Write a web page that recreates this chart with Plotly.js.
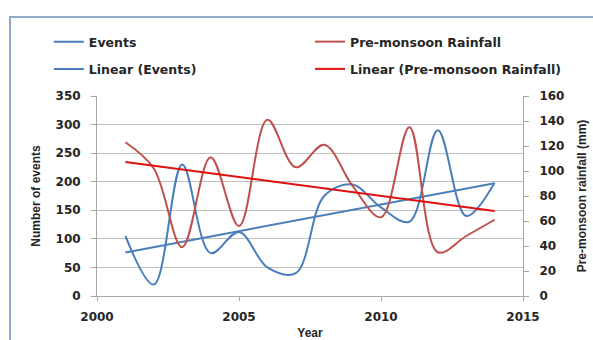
<!DOCTYPE html>
<html>
<head>
<meta charset="utf-8">
<script src="https://cdn.plot.ly/plotly-3.0.1.min.js"></script>
<style>
  html, body { margin: 0; padding: 0; background: #ffffff; overflow: hidden; }
  #wrap { position: relative; width: 593px; height: 340px; overflow: hidden; }
  #frame { position: absolute; left: 9px; top: 16px; width: 700px; height: 400px;
           border-left: 2px solid #8fa9c9; border-top: 2px solid #8fa9c9; }
  #chart { position: absolute; left: 0; top: 0; width: 593px; height: 340px; }
</style>
</head>
<body>
<div id="wrap">
  <div id="frame"></div>
  <div id="chart"></div>
</div>
<script>
// Yearly observations
const years = [2001, 2002, 2003, 2004, 2005, 2006, 2007, 2008, 2009, 2010, 2011, 2012, 2013, 2014];
const events = [105, 20, 230, 75, 112, 50, 40, 175, 195, 155, 130, 290, 140, 198];
const rainfall = [123, 102, 39, 111, 56, 141, 103, 121, 88, 63, 135, 35, 48, 61];

// Axis ticks
const xTicks = [2000, 2005, 2010, 2015];
const eventTicks = [0, 50, 100, 150, 200, 250, 300, 350];
const rainTicks = [0, 20, 40, 60, 80, 100, 120, 140, 160];

// Least-squares linear trend evaluated at each year
function linearTrend(xs, ys) {
  const n = xs.length;
  const mx = xs.reduce((a, b) => a + b, 0) / n;
  const my = ys.reduce((a, b) => a + b, 0) / n;
  let sxy = 0, sxx = 0;
  for (let i = 0; i < n; i++) {
    sxy += (xs[i] - mx) * (ys[i] - my);
    sxx += (xs[i] - mx) * (xs[i] - mx);
  }
  const slope = sxy / sxx;
  return xs.map(x => my + slope * (x - mx));
}

const blue = '#4a7ebb';
const red = '#c0504d';
const trendRed = '#e01010';
const textColor = '#262626';
const tickFont = { family: 'DejaVu Sans', size: 12, color: textColor, weight: 'bold' };
const legendFont = { family: 'DejaVu Sans', size: 12.5, color: textColor, weight: 'bold' };
const titleFont = { family: 'Liberation Sans', size: 12, color: textColor, weight: 'bold' };

const traces = [
  { x: years, y: events, name: 'Events', type: 'scatter', mode: 'lines',
    line: { color: blue, width: 2, shape: 'spline', smoothing: 1 },
    legend: 'legend', legendgroup: 'ev' },
  { x: years, y: linearTrend(years, events), name: 'Linear (Events)', type: 'scatter', mode: 'lines',
    line: { color: blue, width: 2 }, legend: 'legend', legendgroup: 'evt' },
  { x: years, y: rainfall, name: 'Pre-monsoon Rainfall', type: 'scatter', mode: 'lines', yaxis: 'y2',
    line: { color: red, width: 2, shape: 'spline', smoothing: 1 },
    legend: 'legend2', legendgroup: 'rf' },
  { x: years, y: linearTrend(years, rainfall), name: 'Linear (Pre-monsoon Rainfall)', type: 'scatter', mode: 'lines', yaxis: 'y2',
    line: { color: trendRed, width: 2 }, legend: 'legend2', legendgroup: 'rft' }
];

const legendBase = {
  orientation: 'v', xanchor: 'left', yanchor: 'top',
  font: legendFont, bgcolor: 'rgba(0,0,0,0)', borderwidth: 0,
  tracegroupgap: 8, itemclick: false, itemdoubleclick: false
};

const layout = {
  width: 593, height: 340,
  margin: { l: 97, r: 70, t: 96, b: 44 },
  paper_bgcolor: 'rgba(0,0,0,0)', plot_bgcolor: 'rgba(0,0,0,0)',
  showlegend: true,
  legend: Object.assign({}, legendBase, { x: -0.113, y: 1.345 }),
  legend2: Object.assign({}, legendBase, { x: 0.5, y: 1.345 }),
  xaxis: {
    range: [2000, 2015], tickvals: xTicks, ticktext: xTicks.map(String),
    showgrid: false, zeroline: false,
    showline: true, linecolor: '#a6a6a6', linewidth: 1,
    ticks: 'outside', ticklen: 4, tickcolor: '#a6a6a6',
    tickfont: tickFont, ticklabelstandoff: 6,
    title: { text: 'Year', font: titleFont, standoff: 12 }
  },
  yaxis: {
    range: [0, 350], tickvals: eventTicks,
    showgrid: true, gridcolor: '#bfbfbf', gridwidth: 1, zeroline: false,
    showline: true, linecolor: '#a6a6a6', linewidth: 1,
    ticks: 'outside', ticklen: 5, tickcolor: '#a6a6a6',
    tickfont: tickFont, ticklabelstandoff: 8,
    title: { text: 'Number of events', font: titleFont, standoff: 12 }
  },
  yaxis2: {
    range: [0, 160], tickvals: rainTicks, overlaying: 'y', side: 'right',
    showgrid: false, zeroline: false,
    showline: true, linecolor: '#a6a6a6', linewidth: 1,
    ticks: 'outside', ticklen: 5, tickcolor: '#a6a6a6',
    tickfont: tickFont, ticklabelstandoff: 8,
    title: { text: 'Pre-monsoon rainfall (mm)', font: titleFont, standoff: 14 }
  }
};

Plotly.newPlot('chart', traces, layout, { staticPlot: true, displayModeBar: false });
</script>
</body>
</html>
